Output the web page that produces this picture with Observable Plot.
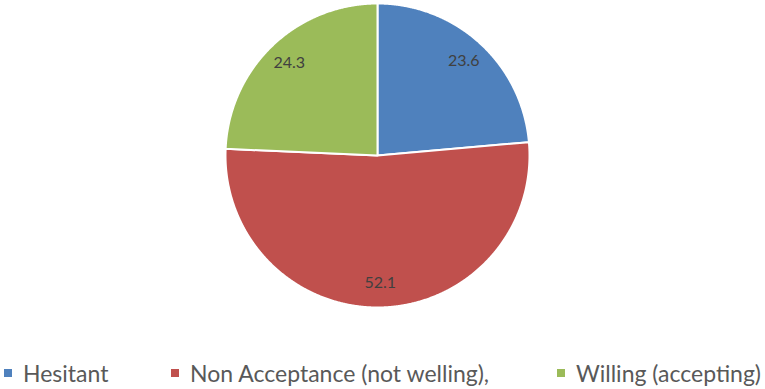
<!DOCTYPE html>
<html><head><meta charset="utf-8">
<script src="https://cdn.jsdelivr.net/npm/d3@7"></script>
<script src="https://cdn.jsdelivr.net/npm/@observablehq/plot@0.6"></script>
<style>
body{margin:0;background:#fff;font-family:Lato, "Open Sans", sans-serif;}
#wrap{position:relative;width:765px;height:389px;overflow:hidden;}
#legend{position:absolute;top:359px;left:0;width:765px;height:28px;font-size:23px;color:#595959;}
.item{position:absolute;top:0;display:flex;align-items:center;white-space:nowrap;line-height:28px;}
.sw{width:8px;height:8px;margin-right:11px;}
</style></head><body>
<div id="wrap"><div id="chart"></div><div id="legend"></div></div>
<script>
const categories = ["Hesitant", "Non Acceptance (not welling),", "Willing (accepting)"];
const values = [23.6, 52.1, 24.3];
const valueLabels = ["23.6", "52.1", "24.3"];
const colors = ["#4F81BD", "#C0504D", "#9BBB59"];

const arcs = d3.pie().sort(null).value(d => d)(values);
const pt = (a, r) => [r * Math.sin(a), r * Math.cos(a)];
const slices = arcs.map((a, i) => {
  const n = Math.max(2, Math.ceil((a.endAngle - a.startAngle) / 0.005));
  const ring = [[0, 0]];
  for (let k = 0; k <= n; k++) ring.push(pt(a.startAngle + (a.endAngle - a.startAngle) * k / n, 1));
  ring.push([0, 0]);
  const mid = (a.startAngle + a.endAngle) / 2;
  const [lx, ly] = pt(mid, 0.84);
  return {cat: categories[i], label: valueLabels[i], geom: {type: "Polygon", coordinates: [ring]}, lx, ly};
});

const chart = Plot.plot({
  width: 765,
  height: 330,
  marginLeft: 225,
  marginRight: 236,
  marginTop: 3,
  marginBottom: 23,
  projection: {type: "reflect-y", domain: {type: "MultiPoint", coordinates: [[-1, -1], [1, 1]]}},
  color: {domain: categories, range: colors},
  marks: [
    Plot.geo(slices, {geometry: d => d.geom, fill: d => d.cat, stroke: "white", strokeWidth: 2}),
    Plot.text(slices, {x: "lx", y: "ly", text: "label", fill: "#404040", fontSize: 16, fontFamily: "Lato, sans-serif"})
  ]
});
document.getElementById("chart").appendChild(chart);

const lefts = [4, 171, 557];
const legend = document.getElementById("legend");
categories.forEach((c, i) => {
  const it = document.createElement("div");
  it.className = "item";
  it.style.left = lefts[i] + "px";
  it.innerHTML = `<span class="sw" style="background:${colors[i]}"></span><span>${c}</span>`;
  legend.appendChild(it);
});
</script>
</body></html>
